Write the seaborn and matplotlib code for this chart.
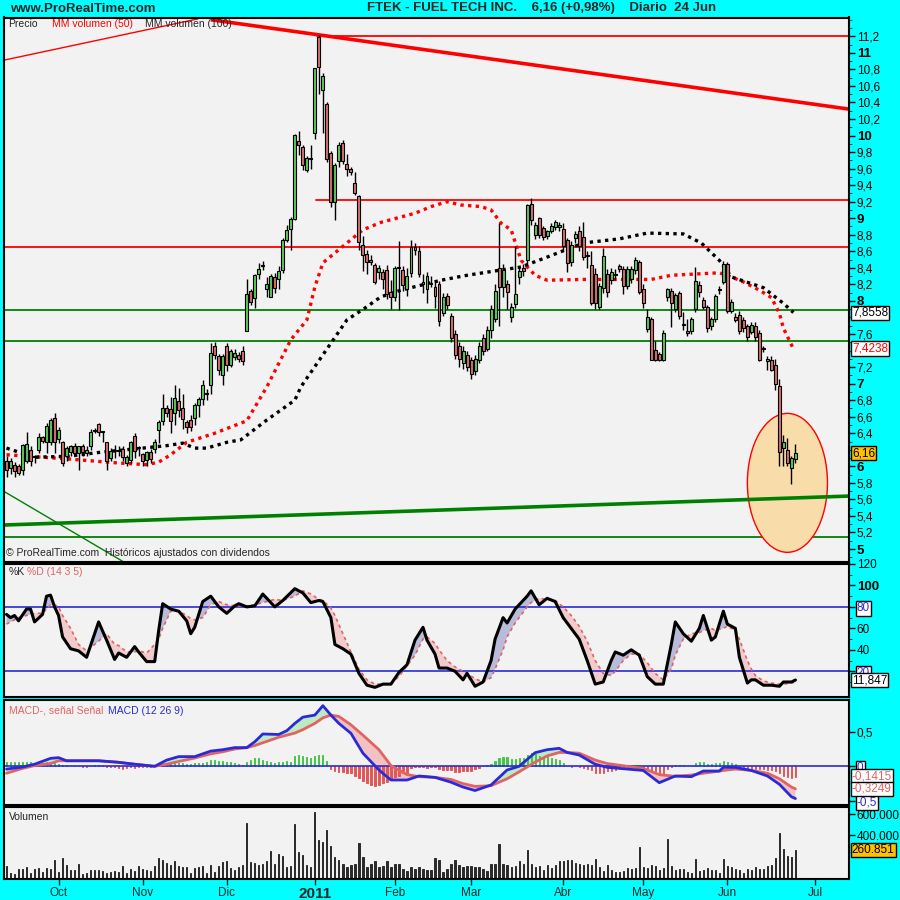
import numpy as np
import pandas as pd
import seaborn as sns
import matplotlib
matplotlib.use("Agg")
import matplotlib.pyplot as plt
from matplotlib.patches import Ellipse

## Data: daily candles, 14 Sep 2010 .. 24 Jun 2011 (trading day index 0..197)
opens = [6.07, 5.98, 6.02, 6.00, 5.96, 6.07, 6.20, 6.12, 6.20, 6.35,
         6.30, 6.30, 6.58, 6.33, 6.30, 6.12, 6.17, 6.25, 6.16, 6.24,
         6.16, 6.24, 6.43, 6.51, 6.41, 6.29, 6.10, 6.18, 6.18, 6.21,
         6.04, 6.08, 6.37, 6.22, 6.15, 6.08, 6.17, 6.21, 6.44, 6.55,
         6.70, 6.69, 6.64, 6.79, 6.70, 6.53, 6.56, 6.58, 6.74, 6.82,
         6.88, 6.98, 7.46, 7.33, 7.10, 7.45, 7.22, 7.32, 7.34, 7.39,
         7.64, 8.12, 8.04, 8.33, 8.42, 8.14, 8.05, 8.29, 8.26, 8.37,
         8.74, 8.87, 8.99, 9.93, 9.86, 9.58, 9.73, 10.03, 11.19, 10.55,
         10.38, 9.79, 9.20, 9.69, 9.91, 9.66, 9.60, 9.42, 9.27, 8.68,
         8.57, 8.50, 8.43, 8.35, 8.35, 8.37, 8.11, 8.05, 8.40, 8.37,
         8.15, 8.34, 8.65, 8.60, 8.23, 8.15, 8.21, 8.17, 8.20, 7.85,
         8.06, 7.82, 7.60, 7.45, 7.25, 7.35, 7.28, 7.15, 7.28, 7.55,
         7.42, 7.65, 7.78, 8.40, 8.17, 8.21, 7.81, 7.96, 8.29, 8.40,
         8.50, 9.17, 8.80, 9.00, 8.88, 8.78, 8.84, 8.89, 8.89, 8.87,
         8.74, 8.47, 8.76, 8.85, 8.77, 8.54, 8.43, 8.33, 7.93, 8.16,
         8.33, 8.25, 8.31, 8.42, 8.38, 8.18, 8.26, 8.37, 8.47, 8.15,
         7.66, 7.78, 7.41, 7.36, 7.29, 8.05, 8.12, 7.90, 8.09, 7.71,
         7.64, 7.64, 7.90, 8.19, 8.01, 7.93, 7.70, 7.78, 8.13, 8.23,
         8.45, 7.88, 7.81, 7.83, 7.77, 7.70, 7.62, 7.70, 7.61, 7.42,
         7.27, 7.29, 7.23, 6.97, 6.22, 6.20, 5.98, 6.09]
closes = [5.96, 6.06, 5.94, 5.92, 6.26, 6.27, 6.06, 6.11, 6.35, 6.31,
          6.49, 6.56, 6.30, 6.44, 6.04, 6.22, 6.24, 6.16, 6.24, 6.17,
          6.20, 6.42, 6.43, 6.41, 6.41, 6.06, 6.18, 6.18, 6.18, 6.11,
          6.11, 6.29, 6.19, 6.22, 6.07, 6.17, 6.09, 6.29, 6.54, 6.71,
          6.64, 6.55, 6.83, 6.68, 6.57, 6.48, 6.47, 6.74, 6.81, 6.98,
          6.88, 7.37, 7.35, 7.16, 7.33, 7.22, 7.39, 7.37, 7.30, 7.27,
          8.08, 7.99, 8.31, 8.39, 8.42, 8.20, 8.30, 8.16, 8.36, 8.74,
          8.86, 8.99, 10.01, 9.89, 9.64, 9.73, 9.72, 10.82, 10.83, 10.72,
          9.71, 9.20, 9.64, 9.88, 9.69, 9.60, 9.56, 9.30, 8.71, 8.55,
          8.47, 8.47, 8.23, 8.40, 8.27, 8.08, 8.05, 8.40, 8.40, 8.19,
          8.30, 8.65, 8.61, 8.33, 8.20, 8.30, 8.21, 8.06, 7.76, 8.05,
          7.95, 7.55, 7.35, 7.30, 7.40, 7.20, 7.12, 7.30, 7.45, 7.40,
          7.65, 7.90, 8.12, 8.17, 8.37, 8.11, 7.93, 8.08, 8.36, 8.36,
          9.16, 8.98, 8.92, 8.80, 8.77, 8.84, 8.91, 8.95, 8.92, 8.66,
          8.46, 8.68, 8.81, 8.66, 8.53, 8.54, 7.98, 7.98, 8.18, 8.54,
          8.11, 8.35, 8.31, 8.39, 8.18, 8.38, 8.38, 8.50, 8.11, 7.97,
          7.81, 7.29, 7.29, 7.29, 7.61, 8.14, 7.97, 8.07, 7.82, 7.71,
          7.61, 7.78, 8.24, 8.11, 7.93, 7.67, 7.78, 8.06, 8.13, 8.45,
          7.88, 7.99, 7.77, 7.64, 7.67, 7.56, 7.71, 7.56, 7.29, 7.42,
          7.30, 7.16, 6.99, 6.17, 6.29, 6.04, 6.10, 6.16]
highs = [6.13, 6.10, 6.05, 6.03, 6.27, 6.42, 6.24, 6.14, 6.40, 6.37,
         6.52, 6.58, 6.64, 6.47, 6.31, 6.25, 6.26, 6.28, 6.25, 6.27,
         6.24, 6.45, 6.46, 6.52, 6.43, 6.30, 6.22, 6.26, 6.24, 6.25,
         6.14, 6.31, 6.40, 6.25, 6.16, 6.19, 6.21, 6.33, 6.56, 6.88,
         6.74, 6.84, 6.98, 6.95, 6.88, 6.56, 6.62, 6.76, 6.84, 7.04,
         6.93, 7.49, 7.50, 7.36, 7.36, 7.49, 7.42, 7.42, 7.38, 7.46,
         8.27, 8.15, 8.33, 8.46, 8.48, 8.29, 8.32, 8.34, 8.42, 8.76,
         8.92, 9.02, 10.02, 10.06, 9.88, 9.75, 9.88, 10.82, 11.22, 10.75,
         10.40, 9.81, 9.67, 9.92, 9.94, 9.78, 9.62, 9.56, 9.28, 8.79,
         8.62, 8.56, 8.46, 8.44, 8.38, 8.44, 8.25, 8.42, 8.72, 8.42,
         8.40, 8.74, 8.70, 8.66, 8.33, 8.35, 8.30, 8.24, 8.24, 8.10,
         8.10, 7.85, 7.65, 7.50, 7.45, 7.40, 7.32, 7.35, 7.50, 7.60,
         7.70, 7.95, 8.20, 8.94, 8.45, 8.25, 7.97, 8.66, 8.40, 8.45,
         9.17, 9.24, 8.95, 9.02, 8.90, 8.86, 8.94, 8.98, 8.96, 8.94,
         8.76, 8.72, 8.85, 8.90, 8.95, 8.60, 8.60, 8.40, 8.22, 8.64,
         8.38, 8.40, 8.38, 8.45, 8.42, 8.42, 8.42, 8.53, 8.50, 8.20,
         7.90, 7.80, 7.51, 7.38, 7.65, 8.16, 8.16, 8.10, 8.12, 7.87,
         7.78, 7.80, 8.41, 8.24, 8.05, 7.95, 7.80, 8.08, 8.18, 8.48,
         8.47, 8.02, 7.85, 7.88, 7.80, 7.72, 7.74, 7.74, 7.65, 7.45,
         7.33, 7.33, 7.30, 7.05, 6.38, 6.34, 6.12, 6.27]
lows = [5.87, 5.91, 5.87, 5.89, 5.89, 6.04, 6.00, 6.04, 6.16, 6.28,
        6.16, 6.26, 6.16, 6.28, 6.00, 6.06, 6.12, 6.12, 5.96, 6.12,
        6.12, 6.20, 6.40, 6.37, 6.30, 5.96, 6.06, 6.10, 6.12, 6.06,
        6.00, 6.04, 6.10, 6.12, 6.00, 6.00, 6.04, 6.16, 6.28, 6.50,
        6.60, 6.40, 6.50, 6.60, 6.45, 6.40, 6.43, 6.50, 6.60, 6.74,
        6.80, 6.88, 7.30, 7.10, 6.98, 7.15, 7.20, 7.28, 7.26, 7.22,
        7.64, 7.95, 7.91, 8.27, 8.37, 8.05, 8.05, 8.09, 8.14, 8.34,
        8.71, 8.62, 8.98, 9.76, 9.58, 9.56, 9.60, 9.96, 10.50, 10.03,
        9.68, 9.14, 8.98, 9.62, 9.66, 9.51, 9.52, 9.28, 8.62, 8.36,
        8.32, 8.44, 8.20, 8.26, 8.15, 8.02, 7.90, 8.00, 7.89, 8.12,
        8.06, 8.29, 8.55, 8.29, 8.10, 7.98, 8.17, 7.92, 7.70, 7.82,
        7.90, 7.50, 7.30, 7.20, 7.18, 7.15, 7.05, 7.10, 7.25, 7.35,
        7.40, 7.55, 7.75, 7.70, 8.05, 7.90, 7.75, 7.92, 8.20, 8.30,
        8.45, 8.92, 8.75, 8.76, 8.74, 8.75, 8.82, 8.86, 8.85, 8.60,
        8.35, 8.42, 8.70, 8.60, 8.50, 8.40, 7.95, 7.90, 7.90, 8.10,
        8.05, 8.20, 8.25, 8.35, 8.08, 8.15, 8.22, 8.33, 8.08, 7.92,
        7.63, 7.28, 7.27, 7.27, 7.27, 8.00, 7.69, 7.86, 7.78, 7.65,
        7.58, 7.60, 7.86, 8.05, 7.90, 7.62, 7.65, 7.75, 8.08, 8.20,
        7.85, 7.85, 7.74, 7.60, 7.62, 7.52, 7.60, 7.52, 7.27, 7.38,
        7.17, 7.15, 6.92, 6.00, 6.00, 6.00, 5.79, 6.04]
# volume in thousands of shares
volume_k = [115, 48, 39, 85, 85, 100, 48, 85, 94, 55,
            94, 85, 167, 55, 185, 121, 79, 79, 130, 39,
            48, 76, 76, 76, 70, 48, 61, 64, 55, 115,
            48, 85, 70, 115, 85, 76, 70, 115, 185, 170,
            139, 124, 161, 109, 100, 100, 48, 94, 100, 115,
            48, 121, 61, 115, 152, 158, 91, 79, 100, 121,
            515, 155, 145, 124, 133, 158, 251, 130, 230, 206,
            103, 115, 503, 242, 215, 121, 100, 621, 358, 342,
            448, 303, 200, 170, 130, 100, 121, 130, 333, 200,
            100, 130, 158, 100, 115, 158, 100, 130, 130, 85,
            70, 100, 85, 106, 85, 79, 79, 191, 167, 55,
            85, 130, 167, 121, 100, 115, 115, 100, 106, 85,
            70, 130, 130, 321, 130, 121, 100, 115, 158, 136,
            267, 130, 100, 115, 79, 121, 91, 121, 158, 161,
            167, 167, 145, 136, 121, 130, 121, 176, 100, 70,
            121, 79, 61, 61, 70, 91, 85, 91, 288, 100,
            94, 121, 115, 76, 94, 370, 115, 79, 85, 85,
            61, 45, 182, 70, 79, 91, 76, 79, 48, 176,
            115, 100, 85, 76, 48, 85, 76, 106, 85, 85,
            115, 121, 191, 424, 273, 206, 197, 261]

# moving averages (day index, price)
ma50_day = [0, 15, 28, 35, 38, 41, 45, 52, 60, 65, 71, 75, 77, 79, 83.5, 89, 93.5, 102,
            106, 110, 113.5, 118.5, 121, 123.5, 126, 128.5, 132, 135, 144, 161, 166, 178,
            181, 184, 188, 191, 193, 194, 196.5]
ma50_val = [6.14, 6.09, 6.04, 6.02, 6.05, 6.14, 6.29, 6.40, 6.55, 6.96, 7.53, 7.77, 8.17, 8.46,
            8.64, 8.86, 8.95, 9.06, 9.14, 9.20, 9.16, 9.14, 9.10, 8.94, 8.86, 8.49, 8.31, 8.25,
            8.26, 8.26, 8.31, 8.34, 8.29, 8.23, 8.13, 8.04, 7.85, 7.67, 7.42]
ma100_day = [0, 7, 15, 23.5, 32, 40, 44, 47, 50, 55, 58.5, 65, 72, 73.5, 85, 90, 93.5, 98.5,
             108.5, 115, 123, 128.5, 135, 144, 153, 160, 169, 173.5, 178, 181, 189, 194, 196.5]
ma100_val = [6.22, 6.11, 6.12, 6.17, 6.21, 6.25, 6.28, 6.22, 6.22, 6.29, 6.32, 6.56, 6.80, 6.96,
             7.77, 7.93, 8.05, 8.13, 8.25, 8.31, 8.37, 8.41, 8.53, 8.70, 8.75, 8.82, 8.81, 8.70,
             8.49, 8.29, 8.16, 7.97, 7.86]

# drawn trend lines / levels (day index, price)
red_trend_day, red_trend_val = [51, 210.25], [11.40, 10.32]
red_thin_day, red_thin_val = [-0.75, 47.75], [10.91, 11.41]
green_trend_day, green_trend_val = [-0.75, 210.25], [5.29, 5.64]
green_thin_day, green_thin_val = [-0.75, 29.75], [5.70, 4.83]
red_levels = [11.20, 9.22, 8.65]
red_level_start = [77.5, 77.25, -0.75]
green_levels = [7.886, 7.515, 5.145]

# stochastic %K / %D (14 3 5)
stoch_day = [0, 1, 2, 3, 5, 6, 7, 9, 10, 11, 12, 13, 14, 16, 18, 20, 23, 25, 27, 28, 30, 32, 33,
             35, 37, 38, 39, 41, 43, 45, 46, 47, 49, 51, 53, 55, 57, 58, 60, 62, 64, 67, 69, 72,
             74, 76, 78, 79, 81, 82, 84, 86, 88, 90, 92, 94, 96, 98, 100, 102, 104, 105, 107,
             108, 110, 112, 114, 115, 117, 119, 121, 122, 124, 125, 127, 130, 131, 133, 135,
             137, 139, 141, 143, 145, 147, 149, 151, 152, 154, 156, 158, 160, 162, 164, 166,
             167, 169, 171, 173, 174, 176, 177, 179, 180, 182, 183, 185, 186, 187, 189, 191,
             193, 194, 196, 197]
stoch_k = [73, 70, 72, 67, 78, 78, 66, 73, 90, 91, 80, 72, 52, 41, 39, 33, 66, 49, 31, 37, 33, 43,
           38, 29, 29, 58, 83, 78, 76, 67, 55, 61, 85, 90, 80, 74, 81, 83, 80, 81, 92, 80, 86, 97,
           93, 84, 86, 85, 70, 45, 41, 36, 18, 7, 5, 8, 8, 19, 26, 49, 61, 49, 36, 23, 23, 20, 12,
           18, 6, 10, 30, 50, 70, 65, 78, 90, 95, 82, 88, 85, 70, 60, 50, 30, 8, 10, 30, 38, 35,
           40, 35, 15, 8, 8, 45, 66, 55, 48, 60, 72, 49, 52, 76, 64, 60, 33, 9, 12, 12, 7, 7, 6,
           10, 10, 11.85]
stoch_d = [64, 66, 68, 70, 72, 73, 74, 74, 78, 82, 82, 80, 72, 60, 45, 39, 48, 55, 45, 44, 38, 38,
           39, 37, 45, 50, 60, 76, 76, 72, 69, 68, 70, 82, 85, 82, 81, 81, 81, 82, 84, 87, 86, 90,
           95, 92, 87, 86, 79, 72, 55, 38, 22, 12, 8, 8, 9, 15, 25, 35, 50, 52, 46, 40, 30, 24, 20,
           18, 13, 10, 14, 22, 40, 52, 65, 80, 84, 88, 87, 86, 80, 72, 62, 48, 30, 18, 16, 20, 30,
           36, 36, 28, 18, 12, 22, 35, 50, 55, 56, 58, 60, 58, 60, 62, 58, 50, 30, 22, 16, 11, 9,
           8, 8, 9, 10]

# MACD (12 26 9)
macd_day = [0, 4, 7, 11, 13, 15, 19, 23, 28, 32, 37, 40, 43, 47, 51, 54, 57, 60, 62, 64, 68, 70,
            72, 74, 77, 79, 81, 83, 86, 89, 93, 96, 100, 103, 107, 111, 114, 117, 121, 125, 128,
            132, 135, 138, 140, 143, 147, 150, 155, 159, 163, 167, 171, 174, 178, 179, 182, 186,
            190, 193, 196, 197]
macd_line = [-0.04, -0.01, 0.03, 0.115, 0.125, 0.08, 0.08, 0.08, 0.058, 0.03, 0.0, 0.09, 0.14,
             0.14, 0.22, 0.24, 0.27, 0.27, 0.355, 0.467, 0.46, 0.515, 0.62, 0.71, 0.74, 0.876,
             0.74, 0.62, 0.477, 0.19, -0.053, -0.198, -0.198, -0.14, -0.16, -0.23, -0.30, -0.35,
             -0.27, -0.053, 0.0, 0.197, 0.24, 0.26, 0.2, 0.163, 0.03, -0.015, -0.04, -0.06,
             -0.237, -0.14, -0.15, -0.068, -0.068, -0.015, -0.015, -0.06, -0.14, -0.26, -0.44,
             -0.466]
macd_signal = [-0.10, -0.03, 0.01, 0.04, 0.08, 0.08, 0.08, 0.08, 0.058, 0.03, 0.0, 0.03, 0.07,
               0.12, 0.18, 0.21, 0.25, 0.27, 0.30, 0.34, 0.42, 0.45, 0.48, 0.53, 0.62, 0.70, 0.74,
               0.72, 0.60, 0.45, 0.24, 0.01, -0.12, -0.15, -0.16, -0.19, -0.25, -0.29, -0.28,
               -0.18, -0.08, 0.06, 0.15, 0.2, 0.2, 0.19, 0.09, 0.04, 0.0, -0.03, -0.12, -0.145,
               -0.126, -0.10, -0.07, -0.06, -0.04, -0.06, -0.10, -0.18, -0.30, -0.325]
macd_hist = [0.067, 0.067, 0.067, 0.067, 0.067, 0.067, 0.067, 0.053, 0.043, 0.043,
             0.067, 0.067, 0.043, 0.034, 0.019, 0.014, 0.005, 0.0, 0.0, -0.014,
             -0.010, 0.0, 0.019, 0.019, 0.019, -0.014, -0.014, -0.014, -0.024, -0.034,
             -0.024, -0.014, -0.024, -0.014, -0.010, -0.010, -0.005, 0.0, 0.019, 0.034,
             0.043, 0.053, 0.067, 0.053, 0.043, 0.034, 0.034, 0.043, 0.043, 0.053,
             0.067, 0.092, 0.092, 0.082, 0.082, 0.067, 0.067, 0.053, 0.034, 0.019,
             0.067, 0.092, 0.116, 0.116, 0.092, 0.082, 0.067, 0.053, 0.067, 0.067,
             0.082, 0.067, 0.149, 0.164, 0.154, 0.140, 0.116, 0.149, 0.164, 0.164,
             0.082, -0.043, -0.063, -0.077, -0.077, -0.092, -0.101, -0.140, -0.173, -0.207,
             -0.246, -0.270, -0.284, -0.270, -0.246, -0.222, -0.188, -0.159, -0.140, -0.101,
             -0.101, -0.019, -0.014, -0.014, -0.014, -0.024, -0.014, -0.014, -0.043, -0.053,
             -0.053, -0.053, -0.077, -0.077, -0.067, -0.067, -0.063, -0.043, -0.019, 0.0,
             0.014, 0.034, 0.077, 0.116, 0.140, 0.130, 0.101, 0.106, 0.116, 0.116,
             0.164, 0.188, 0.178, 0.149, 0.140, 0.130, 0.116, 0.101, 0.092, 0.053,
             0.0, -0.014, 0.0, -0.014, -0.024, -0.034, -0.053, -0.092, -0.101, -0.092,
             -0.072, -0.063, -0.053, -0.024, -0.014, -0.005, -0.014, -0.005, -0.014, -0.024,
             -0.043, -0.063, -0.072, -0.101, -0.111, -0.043, -0.014, 0.019, 0.019, 0.019,
             0.0, 0.0, 0.048, 0.063, 0.063, 0.034, 0.034, 0.048, 0.048, 0.077,
             0.067, 0.053, 0.034, 0.0, -0.014, -0.024, -0.034, -0.034, -0.043, -0.043,
             -0.053, -0.053, -0.072, -0.101, -0.140, -0.159, -0.169, -0.149]

month_day = [13, 34, 55, 77, 97, 116, 139, 159, 180, 202]
month_lbl = ['Oct', 'Nov', 'Dic', '2011', 'Feb', 'Mar', 'Abr', 'May', 'Jun', 'Jul']

## Colours
CYAN = '#00ffff'
PANEL = '#f2f2f2'
UP = '#5ccb5c'
DOWN = '#d87070'
SALMON = '#e06464'
BLUE = '#2a2ad8'

sns.set_style("white")
plt.rcParams['font.family'] = ['Liberation Sans', 'DejaVu Sans']

df = pd.DataFrame({'open': opens, 'close': closes, 'high': highs, 'low': lows,
                   'volume': np.array(volume_k) * 1000})
df['day'] = np.arange(len(df))
XL = (-0.75, 210.25)

fig = plt.figure(figsize=(9, 9), dpi=100, facecolor=CYAN)


def px_axes(x0, y0, x1, y1):
    ax = fig.add_axes([x0 / 900, 1 - y1 / 900, (x1 - x0) / 900, (y1 - y0) / 900])
    ax.set_facecolor(PANEL)
    for s in ax.spines.values():
        s.set_color('black')
        s.set_linewidth(1.5)
    ax.set_xlim(*XL)
    ax.yaxis.tick_right()
    ax.tick_params(axis='y', direction='out', length=4, width=1, labelsize=8.5, pad=2,
                   colors='black', left=False, right=True)
    ax.tick_params(axis='x', bottom=False, labelbottom=False)
    return ax


def val_box(ax, y, text, fc='white', tc='black'):
    ax.text(1.004, y, text, transform=ax.get_yaxis_transform(), ha='left', va='center',
            fontsize=8.5, color=tc, clip_on=False, zorder=20,
            bbox=dict(boxstyle='square,pad=0.1', fc=fc, ec='black', lw=1))


## Price panel
ax_p = px_axes(3.5, 17.5, 848.5, 562)
ax_p.set_ylim(4.843, 11.427)

for lvl, start in zip(red_levels, red_level_start):
    ax_p.plot([start, XL[1]], [lvl, lvl], color='red', lw=1.3, zorder=1)
for lvl in green_levels:
    ax_p.axhline(lvl, color='#008000', lw=1.3, zorder=1)

ax_p.add_patch(Ellipse((195, 5.80), 20, 1.68, fc='#f8dcaa', ec='red', lw=1, zorder=1.5))

ax_p.plot(red_trend_day, red_trend_val, color='red', lw=2.6, zorder=2, solid_capstyle='butt')
ax_p.plot(red_thin_day, red_thin_val, color='red', lw=1, zorder=2)
ax_p.plot(green_trend_day, green_trend_val, color='#008000', lw=2.6, zorder=2)
ax_p.plot(green_thin_day, green_thin_val, color='#008000', lw=1, zorder=2)

sns.lineplot(x=ma50_day, y=ma50_val, ax=ax_p, color='red', linewidth=2.4,
             linestyle=(0, (1, 1.3)), legend=False, zorder=2.5)
sns.lineplot(x=ma100_day, y=ma100_val, ax=ax_p, color='black', linewidth=2.4,
             linestyle=(0, (1, 1.3)), legend=False, zorder=2.5)

up = df['close'] >= df['open']
body_lo = np.minimum(df['open'], df['close'])
body_h = np.maximum((df['close'] - df['open']).abs(), 0.012)
ax_p.vlines(df['day'], df['low'], df['high'], color='black', lw=1, zorder=3)
ax_p.bar(df['day'], body_h, bottom=body_lo, width=0.74,
         color=np.where(up, UP, DOWN), edgecolor='black', linewidth=0.8, zorder=4)

# tick labels hidden under the value boxes are left out (7,8 / 7,4 / 6,2)
pt = [v for v in np.round(np.arange(5.0, 11.21, 0.2), 1) if v not in (7.8, 7.4, 6.2)]
ax_p.set_yticks(pt)
ax_p.set_yticks(np.round(np.arange(4.9, 11.41, 0.1), 1), minor=True)
ax_p.tick_params(axis='y', which='minor', direction='out', length=2, left=False, right=True)
ax_p.set_yticklabels([str(int(v)) if abs(v - round(v)) < 1e-6 else f"{v:.1f}".replace('.', ',')
                      for v in pt])
for lab, v in zip(ax_p.get_yticklabels(), pt):
    if abs(v - round(v)) < 1e-6:
        lab.set_fontweight('bold')
        lab.set_fontsize(9.5)

val_box(ax_p, 7.8558, '7,8558')
val_box(ax_p, 7.4238, '7,4238', tc='red')
val_box(ax_p, 6.16, '6,16', fc='#ffc000')

ax_p.text(0.006, 0.988, 'Precio', transform=ax_p.transAxes, fontsize=7.5, va='center')
ax_p.text(0.057, 0.988, 'MM volumen (50)', transform=ax_p.transAxes, fontsize=7.5,
          va='center', color='red')
ax_p.text(0.168, 0.988, 'MM volumen (100)', transform=ax_p.transAxes, fontsize=7.5,
          va='center')
ax_p.text(0.003, 0.016, '\u00a9 ProRealTime.com  Hist\u00f3ricos ajustados con dividendos',
          transform=ax_p.transAxes, fontsize=7.5, va='center', zorder=10)

## Stochastic panel
ax_s = px_axes(3.5, 564, 848.5, 697)
ax_s.set_ylim(-4.0, 119.8)
k = np.array(stoch_k, dtype=float)
d = np.array(stoch_d, dtype=float)
ax_s.fill_between(stoch_day, k, d, where=k >= d, color='#b8bcd8', interpolate=True, lw=0)
ax_s.fill_between(stoch_day, k, d, where=k < d, color='#f2cccc', interpolate=True, lw=0)
ax_s.axhline(80, color=BLUE, lw=1.2)
ax_s.axhline(20, color=BLUE, lw=1.2)
sns.lineplot(x=stoch_day, y=stoch_d, ax=ax_s, color=SALMON, linewidth=1.2,
             linestyle=(0, (2, 2)), legend=False)
sns.lineplot(x=stoch_day, y=stoch_k, ax=ax_s, color='black', linewidth=2.2, legend=False)
st = [20, 40, 60, 80, 100, 120]
ax_s.set_yticks(st)
ax_s.set_yticks(range(10, 120, 20), minor=True)
ax_s.tick_params(axis='y', which='minor', direction='out', length=2, left=False, right=True)
ax_s.set_yticklabels([str(v) for v in st])
for lab, v in zip(ax_s.get_yticklabels(), st):
    if v == 100:
        lab.set_fontweight('bold')
        lab.set_fontsize(9.5)
    if v in (20, 80):
        lab.set_color(BLUE)
        lab.set_bbox(dict(boxstyle='square,pad=0.1', fc='white', ec='black', lw=1))
val_box(ax_s, 11.847, '11,847')
ax_s.text(0.006, 0.94, '%K', transform=ax_s.transAxes, fontsize=7.5, va='center')
ax_s.text(0.028, 0.94, '%D (14 3 5)', transform=ax_s.transAxes, fontsize=7.5, va='center',
          color=SALMON)

## MACD panel
ax_m = px_axes(3.5, 700, 848.5, 805)
ax_m.set_ylim(-0.559, 0.958)
h = np.array(macd_hist)
hcol = np.where(h >= 0, '#44c844', '#e05858')
ax_m.bar(df['day'], h, width=0.3, color=hcol, edgecolor=hcol, linewidth=0.7, zorder=2)
ml = np.array(macd_line)
sg = np.array(macd_signal)
ax_m.fill_between(macd_day, ml, sg, where=ml >= sg, color='#bfeabf', interpolate=True, lw=0)
ax_m.fill_between(macd_day, ml, sg, where=ml < sg, color='#f2c2c2', interpolate=True, lw=0)
ax_m.axhline(0, color=BLUE, lw=1.2, zorder=2.5)
sns.lineplot(x=macd_day, y=macd_signal, ax=ax_m, color=SALMON, linewidth=2, legend=False,
             zorder=3)
sns.lineplot(x=macd_day, y=macd_line, ax=ax_m, color=BLUE, linewidth=2, legend=False, zorder=4)
mt = [-0.5, 0.0, 0.5]
ax_m.set_yticks(mt)
ax_m.set_yticklabels(['-0,5', '0', '0,5'])
for lab, v in zip(ax_m.get_yticklabels(), mt):
    if v <= 0:
        lab.set_color(BLUE)
        lab.set_bbox(dict(boxstyle='square,pad=0.1', fc='white', ec='black', lw=1))
val_box(ax_m, -0.1415, '-0,1415', tc=SALMON)
val_box(ax_m, -0.3249, '-0,3249', tc=SALMON)
ax_m.text(0.006, 0.9, 'MACD-, se\u00f1al Se\u00f1al', transform=ax_m.transAxes, fontsize=7.5,
          va='center', color=SALMON)
ax_m.text(0.124, 0.9, 'MACD (12 26 9)', transform=ax_m.transAxes, fontsize=7.5,
          va='center', color=BLUE)

## Volume panel
ax_v = px_axes(3.5, 807, 848.5, 879)
ax_v.set_ylim(-9000, 666000)
ax_v.bar(df['day'], df['volume'], width=0.3, color='#2a2a2a', edgecolor='#2a2a2a',
         linewidth=0.7, zorder=2)
vt = [400000, 600000]
ax_v.set_yticks(vt)
ax_v.set_yticklabels(['400.000', '600.000'])
val_box(ax_v, 260851, '260.851', fc='#ffc000')
ax_v.text(0.006, 0.86, 'Volumen', transform=ax_v.transAxes, fontsize=7.5, va='center')
ax_v.set_xticks(month_day)
ax_v.set_xticklabels(month_lbl)
ax_v.tick_params(axis='x', bottom=True, labelbottom=True, direction='out', length=4,
                 width=1, labelsize=8.5, pad=2)
for lab, t in zip(ax_v.get_xticklabels(), month_lbl):
    if t == '2011':
        lab.set_fontweight('bold')
        lab.set_fontsize(11)
ax_v.set_xlim(*XL)

## Header
fig.text(10 / 900, 1 - 8.5 / 900, 'www.ProRealTime.com', fontsize=9.5, fontweight='bold',
         va='center', ha='left')
fig.text(367 / 900, 1 - 8.5 / 900,
         'FTEK - FUEL TECH INC.    6,16 (+0,98%)    Diario  24 Jun',
         fontsize=9.5, fontweight='bold', va='center', ha='left')

fig.savefig('out.png', dpi=100, facecolor=CYAN)
